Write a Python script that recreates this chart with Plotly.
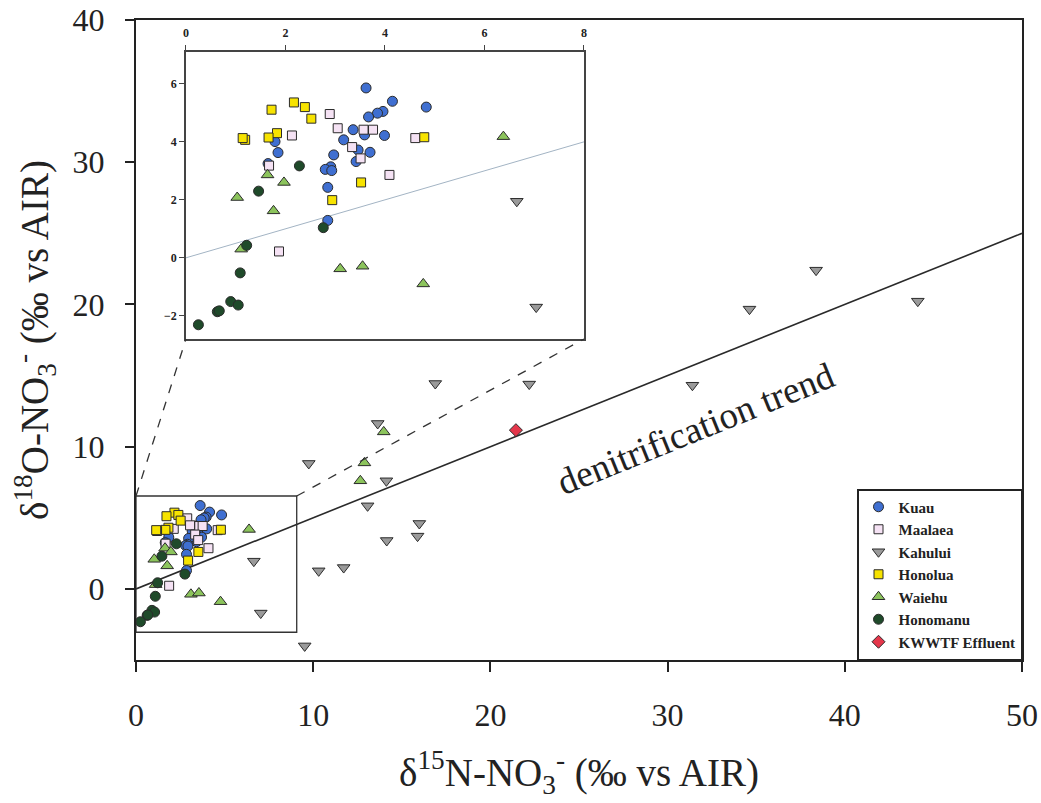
import plotly.graph_objects as go

# ---- isotope data: delta15N (x) and delta18O (y) of nitrate, per site ----
kuau_x = [3.62, 4.15, 4.83, 3.96, 3.85, 3.67, 3.36, 3.59, 3.99, 3.17, 3.46, 3.70,
          3.42, 2.97, 2.91, 2.80, 2.93, 2.85, 2.85, 1.79, 1.85, 1.65]
kuau_y = [5.86, 5.40, 5.20, 5.05, 4.99, 4.86, 4.42, 4.24, 4.22, 4.07, 3.72, 3.64,
          3.32, 3.55, 3.14, 3.05, 3.01, 2.43, 1.29, 4.01, 3.63, 3.25]

maalaea_x = [2.89, 3.05, 3.57, 3.76, 2.13, 4.61, 3.34, 3.51, 4.09, 1.67, 1.87]
maalaea_y = [4.96, 4.47, 4.42, 4.42, 4.22, 4.13, 3.82, 3.43, 2.86, 3.18, 0.22]

kahului_x = [6.65, 7.04, 9.52, 9.75, 10.31, 11.72, 13.07, 13.64, 14.13, 14.15,
             15.89, 15.99, 16.89, 22.19, 31.40, 34.62, 38.38, 44.12]
kahului_y = [1.95, -1.70, -4.01, 8.82, 1.27, 1.50, 5.84, 11.63, 7.60, 3.40,
             3.71, 4.60, 14.44, 14.40, 14.32, 19.67, 22.41, 20.23]

honolua_x = [2.17, 2.39, 1.72, 2.52, 1.83, 1.66, 1.19, 1.14, 4.79, 3.52, 2.94]
honolua_y = [5.36, 5.20, 5.11, 4.80, 4.30, 4.15, 4.07, 4.13, 4.16, 2.60, 1.99]

waiehu_x = [6.38, 1.64, 1.97, 1.03, 1.76, 1.11, 3.10, 3.55, 4.77, 12.66, 12.89, 13.98]
waiehu_y = [4.18, 2.86, 2.60, 2.08, 1.62, 0.30, -0.38, -0.29, -0.90, 7.60, 8.86, 11.04]

honomanu_x = [2.28, 1.46, 2.76, 1.22, 1.09, 0.90, 1.05, 0.63, 0.67, 0.25]
honomanu_y = [3.17, 2.30, 1.04, 0.43, -0.52, -1.51, -1.63, -1.86, -1.83, -2.31]

effluent_x = [21.44]
effluent_y = [11.16]

# 1:2 denitrification trend (delta18O rises half as fast as delta15N)
trend_x = [0, 50]
trend_y = [0, 25]

# ---- layout constants ----
SERIF = "Liberation Serif"
MAIN_X = [0, 50]
MAIN_Y = [-5, 40]
INSET_X = [0, 8]
INSET_Y = [-2.8, 7.1]
INSET_DOM_X = [0.0564, 0.5056]
INSET_DOM_Y = [0.5016, 0.95]
ZOOM_BOX = dict(x0=0, x1=9.07, y0=-3.05, y1=6.53)  # region enlarged in the inset

series = [
    ("Kuau", kuau_x, kuau_y, "circle", "#3f6fd1", 10),
    ("Maalaea", maalaea_x, maalaea_y, "square", "#f5e2f4", 9),
    ("Kahului", kahului_x, kahului_y, "triangle-down", "#9a9a9a", 11),
    ("Honolua", honolua_x, honolua_y, "square", "#f7e300", 9),
    ("Waiehu", waiehu_x, waiehu_y, "triangle-up", "#8cc45c", 11),
    ("Honomanu", honomanu_x, honomanu_y, "circle", "#1f4a2a", 10),
    ("KWWTF Effluent", effluent_x, effluent_y, "diamond", "#e5374b", 10),
]

fig = go.Figure()

# trend lines (main and inset)
fig.add_trace(go.Scatter(x=trend_x, y=trend_y, mode="lines",
                         line=dict(color="#2a2a2a", width=1.6),
                         showlegend=False, hoverinfo="skip", xaxis="x", yaxis="y"))
fig.add_trace(go.Scatter(x=trend_x, y=trend_y, mode="lines",
                         line=dict(color="#a3b4c4", width=1),
                         showlegend=False, hoverinfo="skip", xaxis="x2", yaxis="y2"))

for name, xs, ys, sym, col, size in series:
    mk = dict(symbol=sym, color=col, size=size,
              line=dict(color="#2b2b2b", width=1))
    fig.add_trace(go.Scatter(x=xs, y=ys, mode="markers", name=name, marker=mk,
                             xaxis="x", yaxis="y"))
    fig.add_trace(go.Scatter(x=xs, y=ys, mode="markers", name=name, marker=mk,
                             showlegend=False, xaxis="x2", yaxis="y2"))


def data_to_paper(x, y):
    px = (x - MAIN_X[0]) / (MAIN_X[1] - MAIN_X[0])
    py = (y - MAIN_Y[0]) / (MAIN_Y[1] - MAIN_Y[0])
    return px, py


shapes = [
    dict(type="rect", xref="x", yref="y", **ZOOM_BOX,
         line=dict(color="#333333", width=1.3), layer="above"),
]
# dashed connectors from the zoom box to the inset
for bx, ix in ((ZOOM_BOX["x0"], INSET_DOM_X[0]), (ZOOM_BOX["x1"], INSET_DOM_X[1])):
    p0 = data_to_paper(bx, ZOOM_BOX["y1"])
    shapes.append(dict(type="line", xref="paper", yref="paper",
                       x0=p0[0], y0=p0[1], x1=ix, y1=INSET_DOM_Y[0],
                       line=dict(color="#333333", width=1.3, dash="dash")))

tick_font = dict(family=SERIF, size=32, color="#222222")
title_font = dict(family=SERIF, size=39, color="#222222")
inset_font = dict(family=SERIF, size=12, color="#222222", weight="bold")

fig.update_layout(
    template="none",
    width=1041, height=803,
    margin=dict(l=136, r=19, t=20, b=143),
    paper_bgcolor="white", plot_bgcolor="white",
    font=dict(family=SERIF, color="#222222"),
    shapes=shapes,
    xaxis=dict(range=MAIN_X, tickvals=[0, 10, 20, 30, 40, 50], automargin=False,
               ticks="outside", ticklen=10, tickwidth=2, tickcolor="#222222",
               ticklabelstandoff=16,
               showline=True, linecolor="#222222", linewidth=2, mirror=True,
               showgrid=False, zeroline=False, tickfont=tick_font,
               title=dict(text="δ<sup>15</sup>N-NO<sub>3</sub><sup>-</sup> (‰ vs AIR)",
                          font=title_font, standoff=26)),
    yaxis=dict(range=MAIN_Y, tickvals=[0, 10, 20, 30, 40], automargin=False,
               ticks="outside", ticklen=9, tickwidth=2, tickcolor="#222222",
               ticklabelstandoff=14,
               showline=True, linecolor="#222222", linewidth=2, mirror=True,
               showgrid=False, zeroline=False, tickfont=tick_font,
               title=dict(text="δ<sup>18</sup>O-NO<sub>3</sub><sup>-</sup> (‰ vs AIR)",
                          font=title_font, standoff=12)),
    xaxis2=dict(domain=INSET_DOM_X, anchor="y2", side="top", range=INSET_X,
                automargin=False, tickvals=[0, 2, 4, 6, 8], ticks="outside",
                ticklen=5, ticklabelstandoff=3,
                tickcolor="#444444", showline=True, linecolor="#444444",
                linewidth=1.5, mirror=True, showgrid=False, zeroline=False,
                tickfont=inset_font),
    yaxis2=dict(domain=INSET_DOM_Y, anchor="x2", range=INSET_Y,
                automargin=False, tickvals=[-2, 0, 2, 4, 6], ticks="outside",
                ticklen=5,
                tickcolor="#444444", showline=True, linecolor="#444444",
                linewidth=1.5, mirror=True, showgrid=False, zeroline=False,
                tickfont=inset_font),
    legend=dict(x=1, y=0, xanchor="right", yanchor="bottom",
                bgcolor="white", bordercolor="#222222", borderwidth=1.5,
                font=dict(family=SERIF, size=15, color="#222222", weight="bold"),
                tracegroupgap=0, itemwidth=30),
    annotations=[dict(text="denitrification trend", x=31.6, y=11.3,
                      xref="x", yref="y", showarrow=False, textangle=-22,
                      font=dict(family=SERIF, size=37, color="#222222"))],
)

fig.write_html("out.html")
